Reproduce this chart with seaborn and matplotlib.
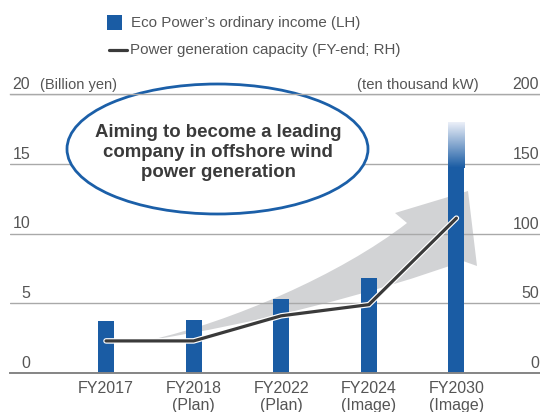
import numpy as np
import pandas as pd
import seaborn as sns
import matplotlib
matplotlib.use("Agg")
import matplotlib.pyplot as plt
import matplotlib.patches as mpatches
import matplotlib.transforms as mtrans
import matplotlib.patheffects as pe
from matplotlib.path import Path

# ---------------- data ----------------
categories = ["FY2017", "FY2018\n(Plan)", "FY2022\n(Plan)", "FY2024\n(Image)", "FY2030\n(Image)"]
income = [3.7, 3.8, 5.3, 6.8, 18.0]          # billion yen (LH)
capacity = [23, 23, 41, 49, 111]            # ten thousand kW (RH)
left_ticks = [0, 5, 10, 15, 20]
right_ticks = [0, 50, 100, 150, 200]
legend_labels = ["Eco Power\u2019s ordinary income (LH)",
                 "Power generation capacity (FY-end; RH)"]
callout = "Aiming to become a leading\ncompany in offshore wind\npower generation"

BLUE = "#1a5ca4"
LINE = "#3a3a3a"
TXT = "#555555"
GRID = "#a9a9a9"

sns.set_theme(style="white")
plt.rcParams["font.family"] = ["Liberation Sans", "DejaVu Sans"]

W, H = 540, 412
fig = plt.figure(figsize=(W / 100, H / 100), dpi=100)

def fx(px):
    return px / W

def fy(py):
    return 1 - py / H

ax = fig.add_axes([fx(10), fy(373), fx(540) - fx(10), fy(94) - fy(373)])
df = pd.DataFrame({"cat": categories, "income": income})
sns.barplot(data=df, x="cat", y="income", color=BLUE, saturation=1,
            width=0.183, ax=ax, zorder=1, linewidth=0, edgecolor="none")
ax.set_xlim(-1.096, 4.954)
ax.set_ylim(left_ticks[0], left_ticks[-1])
ax.set_xlabel("")
ax.set_ylabel("")
ax.set_yticks(left_ticks)
ax.set_yticklabels([])
ax.tick_params(axis="y", length=0)
ax.set_axisbelow(True)
ax.yaxis.grid(True, color=GRID, lw=1.0)
ax.set_facecolor("none")
for s in ["left", "right"]:
    ax.spines[s].set_visible(False)
ax.spines["top"].set_color(GRID)
ax.spines["top"].set_linewidth(1.0)
ax.spines["top"].set_zorder(3)
ax.spines["bottom"].set_color("#858585")
ax.spines["bottom"].set_linewidth(1.4)
ax.set_xticks(range(len(categories)))
ax.set_xticklabels(categories, fontsize=11.5, color=TXT, linespacing=1.1)
ax.tick_params(axis="x", length=0, pad=6)

# gradient fade on the top of the last bar
bar = ax.patches[len(categories) - 1]
bx, bw = bar.get_x(), bar.get_width()
g_lo, g_hi = 14.7, bar.get_height()
n = 64
t = np.linspace(0, 1, n)[:, None]
c0 = np.array(matplotlib.colors.to_rgb(BLUE))
c1 = np.array([0.94, 0.95, 0.98])
grad = (c0[None, None, :] * (1 - t[..., None]) + c1[None, None, :] * t[..., None])
im = ax.imshow(grad, extent=[bx, bx + bw, g_lo, g_hi], origin="lower",
               aspect="auto", zorder=1.1, interpolation="bilinear")
im.set_clip_path(bar)
ax.set_xlim(-1.096, 4.954)
ax.set_ylim(left_ticks[0], left_ticks[-1])

# big gray arrow (decoration)
def P(px, py):
    return (fx(px), fy(py))

verts = [P(150, 340),
         P(250, 325), P(380, 292), P(463, 261),
         P(477, 266),
         P(468, 191),
         P(395, 213),
         P(407, 223),
         P(340, 275), P(230, 322), P(150, 340),
         P(150, 340)]
codes = [Path.MOVETO,
         Path.CURVE4, Path.CURVE4, Path.CURVE4,
         Path.LINETO, Path.LINETO, Path.LINETO, Path.LINETO,
         Path.CURVE4, Path.CURVE4, Path.CURVE4,
         Path.CLOSEPOLY]
arrow = mpatches.PathPatch(Path(verts, codes), facecolor="#d2d3d5",
                           edgecolor="none", transform=fig.transFigure,
                           zorder=0.3, clip_on=False)
ax.add_patch(arrow)

# callout ellipse
ell = mpatches.Ellipse(P(217.5, 149), width=301 / W, height=130 / H,
                       transform=fig.transFigure, facecolor="white",
                       edgecolor="#1b5fa8", lw=2.0, zorder=2, clip_on=False)
ax.add_patch(ell)
fig.text(fx(218), fy(152.5), callout, ha="center", va="center",
         fontsize=13.4, fontweight="bold", color="#3a3a3a", linespacing=1.2,
         zorder=5)

# line on secondary axis
ax2 = ax.twinx()
sns.lineplot(x=np.arange(len(capacity)), y=capacity, ax=ax2, color=LINE,
             lw=2.3, solid_capstyle="round", solid_joinstyle="miter",
             path_effects=[pe.Stroke(linewidth=4.0, foreground="white"), pe.Normal()])
ax2.set_ylim(right_ticks[0], right_ticks[-1])
ax2.set_xlim(-1.096, 4.954)
ax2.set_yticks([])
ax2.set_ylabel("")
for s in ax2.spines.values():
    s.set_visible(False)

# y tick labels (above gridlines)
tl = mtrans.blended_transform_factory(fig.transFigure, ax.transData)
tl = mtrans.offset_copy(tl, fig=fig, x=0, y=2, units="dots")
tr = mtrans.blended_transform_factory(fig.transFigure, ax2.transData)
tr = mtrans.offset_copy(tr, fig=fig, x=0, y=2, units="dots")
for v in left_ticks:
    ax.text(fx(30), v, str(v), transform=tl, ha="right", va="bottom",
            fontsize=11.5, color=TXT, clip_on=False)
for v in right_ticks:
    ax2.text(fx(539), v, str(v), transform=tr, ha="right", va="bottom",
             fontsize=11.5, color=TXT, clip_on=False)
ax.text(fx(40), left_ticks[-1], "(Billion yen)", transform=tl, ha="left",
        va="bottom", fontsize=10.5, color=TXT, clip_on=False)
ax2.text(fx(479), right_ticks[-1], "(ten thousand kW)", transform=tr, ha="right",
         va="bottom", fontsize=10.7, color=TXT, clip_on=False)

# legend
fig.patches.append(mpatches.Rectangle(P(107, 30), 15 / W, 15 / H,
                                      transform=fig.transFigure,
                                      facecolor=BLUE, edgecolor="none"))
fig.lines.append(matplotlib.lines.Line2D([fx(109), fx(127)], [fy(50), fy(50)],
                                         transform=fig.transFigure,
                                         color=LINE, lw=2.3))
fig.text(fx(131), fy(23), legend_labels[0], ha="left", va="center",
         fontsize=10.9, color=TXT)
fig.text(fx(130), fy(50), legend_labels[1], ha="left", va="center",
         fontsize=10.9, color=TXT)

fig.savefig("out.png", dpi=100)
